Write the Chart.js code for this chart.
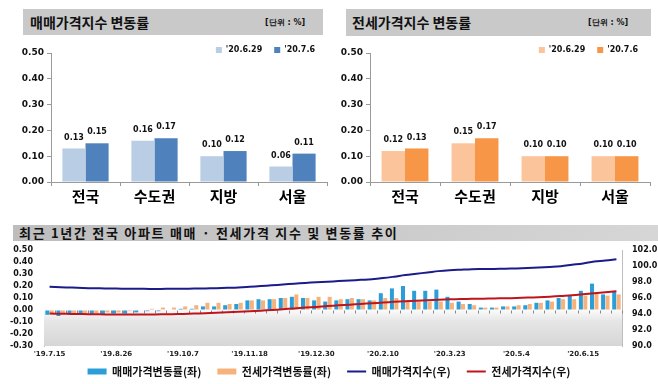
<!DOCTYPE html>
<html>
<head>
<meta charset="utf-8">
<script src="https://cdn.jsdelivr.net/npm/chart.js@4.4.0/dist/chart.umd.min.js"></script>
<style>
body{margin:0;width:658px;height:384px;background:#fff;position:relative;overflow:hidden;font-family:"Noto Sans CJK KR",sans-serif}
.box{position:absolute;background:#c9c9c9}
.ttl{position:absolute;font-weight:700;font-size:14px;color:#111;white-space:nowrap}
.unit{position:absolute;font:700 8px "DejaVu Sans";color:#111;white-space:nowrap}
canvas{position:absolute}
</style>
</head>
<body>
<div class="box" style="left:23px;top:9px;width:300px;height:26px"></div>
<div class="ttl" style="left:30px;top:9px;line-height:26px">매매가격지수 변동률</div>
<div class="unit" style="left:265px;top:17px">[단위 : %]</div>

<div class="box" style="left:346px;top:9px;width:305px;height:27px"></div>
<div class="ttl" style="left:352px;top:9px;line-height:27px">전세가격지수 변동률</div>
<div class="unit" style="left:588px;top:17px">[단위 : %]</div>

<div class="box" style="left:13px;top:225px;width:645px;height:16px;background:linear-gradient(90deg,#bdbdbd,#d6d6d6)"></div>
<div class="ttl" style="left:19px;top:225px;line-height:16px;font-size:13px;letter-spacing:1.7px">최근 1년간 전국 아파트 매매 · 전세가격 지수 및 변동률 추이</div>

<canvas id="c1" width="335" height="176" style="left:0;top:30px"></canvas>
<canvas id="c2" width="323" height="176" style="left:335px;top:30px"></canvas>
<canvas id="c3" width="658" height="142" style="left:0;top:242px"></canvas>

<script>
// top panels
const regions = ['전국', '수도권', '지방', '서울'];
const weekLabels = ["'20.6.29", "'20.7.6"];
const saleChg0629 = [0.13, 0.16, 0.10, 0.06];
const saleChg0706 = [0.15, 0.17, 0.12, 0.11];
const jeonseChg0629 = [0.12, 0.15, 0.10, 0.10];
const jeonseChg0706 = [0.13, 0.17, 0.10, 0.10];

// bottom panel (weekly, '19.7.15 ~ '20.7.6)
const weeks = ["'19.7.15","'19.7.22","'19.7.29","'19.8.5","'19.8.12","'19.8.19","'19.8.26","'19.9.2","'19.9.9","'19.9.16",
  "'19.9.23","'19.9.30","'19.10.7","'19.10.14","'19.10.21","'19.10.28","'19.11.4","'19.11.11","'19.11.18","'19.11.25",
  "'19.12.2","'19.12.9","'19.12.16","'19.12.23","'19.12.30","'20.1.6","'20.1.13","'20.1.20","'20.1.27","'20.2.3",
  "'20.2.10","'20.2.17","'20.2.24","'20.3.2","'20.3.9","'20.3.16","'20.3.23","'20.3.30","'20.4.6","'20.4.13",
  "'20.4.20","'20.4.27","'20.5.4","'20.5.11","'20.5.18","'20.5.25","'20.6.1","'20.6.8","'20.6.15","'20.6.22",
  "'20.6.29","'20.7.6"];
const saleRate = [-0.04,-0.05,-0.04,-0.04,-0.04,-0.04,-0.03,-0.03,-0.02,-0.01,
  -0.01,0.00,0.01,0.01,0.03,0.03,0.04,0.05,0.08,0.09,
  0.09,0.10,0.11,0.10,0.08,0.07,0.08,0.09,0.09,0.08,
  0.14,0.18,0.20,0.16,0.16,0.17,0.11,0.07,0.05,0.02,
  0.02,0.03,0.03,0.04,0.06,0.08,0.10,0.12,0.16,0.22,
  0.13,0.15];
const jeonseRate = [-0.03,-0.03,-0.03,-0.03,-0.03,-0.02,-0.02,-0.01,0.00,0.01,
  0.02,0.02,0.03,0.04,0.06,0.06,0.05,0.06,0.08,0.08,
  0.09,0.10,0.13,0.10,0.11,0.11,0.09,0.10,0.09,0.08,
  0.10,0.10,0.08,0.07,0.07,0.07,0.06,0.05,0.04,0.02,
  0.02,0.03,0.04,0.05,0.06,0.07,0.09,0.09,0.12,0.14,
  0.12,0.13];
const saleIndex = [97.40,97.35,97.30,97.25,97.22,97.20,97.18,97.16,97.15,97.14,
  97.14,97.15,97.16,97.18,97.20,97.23,97.27,97.32,97.40,97.49,
  97.58,97.68,97.79,97.89,97.97,98.04,98.11,98.19,98.27,98.35,
  98.49,98.67,98.87,99.03,99.19,99.36,99.47,99.54,99.60,99.62,
  99.64,99.67,99.70,99.74,99.80,99.88,99.98,100.15,100.32,100.55,
  100.68,100.84];
const jeonseIndex = [94.05,94.03,94.01,93.99,93.97,93.95,93.94,93.93,93.93,93.94,
  93.96,93.98,94.01,94.05,94.10,94.16,94.22,94.27,94.34,94.42,
  94.50,94.59,94.70,94.80,94.89,94.99,95.08,95.17,95.26,95.34,
  95.43,95.52,95.60,95.66,95.72,95.78,95.83,95.87,95.90,95.92,
  95.94,95.97,96.00,96.05,96.10,96.17,96.26,96.35,96.47,96.60,
  96.72,96.84];

const numFont = { family: 'DejaVu Sans', weight: 'bold' };
const korFont = { family: 'Noto Sans CJK KR', weight: 'bold' };

// value labels above bars
const barValues = {
  id: 'barValues',
  afterDatasetsDraw(chart) {
    const ctx = chart.ctx;
    ctx.save();
    ctx.font = 'bold 8px "DejaVu Sans"';
    ctx.fillStyle = '#111';
    ctx.textAlign = 'center';
    ctx.textBaseline = 'middle';
    chart.data.datasets.forEach((ds, i) => {
      chart.getDatasetMeta(i).data.forEach((bar, j) => {
        ctx.fillText(ds.data[j].toFixed(2), bar.x, bar.y - 11);
      });
    });
    ctx.restore();
  }
};

function topChart(id, a, b, colA, colB, axisW) {
  new Chart(document.getElementById(id), {
    type: 'bar',
    data: {
      labels: regions,
      datasets: [
        { label: weekLabels[0], data: a, backgroundColor: colA },
        { label: weekLabels[1], data: b, backgroundColor: colB }
      ]
    },
    options: {
      responsive: false,
      animation: false,
      layout: { padding: { top: 4, right: 8 } },
      datasets: { bar: { categoryPercentage: 0.67, barPercentage: 1.0 } },
      plugins: {
        legend: {
          position: 'top',
          align: 'end',
          maxHeight: 19,
          labels: { boxWidth: 6, boxHeight: 6, padding: 12, color: '#111', font: { ...numFont, size: 8 } }
        },
        tooltip: { enabled: false }
      },
      scales: {
        x: {
          grid: { drawOnChartArea: false, tickLength: 4, color: '#9a9a9a' },
          border: { color: '#9a9a9a' },
          ticks: { color: '#000', padding: 1, font: { ...korFont, size: 15 } },
          afterFit: s => { s.height = 24; }
        },
        y: {
          min: 0, max: 0.5,
          ticks: { stepSize: 0.1, padding: 3, color: '#111', font: { ...numFont, size: 9 },
            callback: v => v.toFixed(2) },
          grid: { drawOnChartArea: false, tickLength: 4, color: '#9a9a9a' },
          border: { color: '#9a9a9a' },
          afterFit: s => { s.width = axisW; }
        }
      }
    },
    plugins: [barValues]
  });
}

topChart('c1', saleChg0629, saleChg0706, '#b9cde5', '#4f81bd', 51);
topChart('c2', jeonseChg0629, jeonseChg0706, '#fbc49b', '#f79646', 35);

// shaded plot background + small category ticks on the zero line
const plotBg = {
  id: 'plotBg',
  beforeDatasetsDraw(chart) {
    const { ctx, chartArea: a, scales } = chart;
    const g = ctx.createLinearGradient(0, a.top, 0, a.bottom);
    g.addColorStop(0, '#ffffff');
    g.addColorStop(0.6, '#ffffff');
    g.addColorStop(0.74, '#e6e6e6');
    g.addColorStop(1, '#d6d6d6');
    ctx.save();
    ctx.fillStyle = g;
    ctx.fillRect(a.left, a.top, a.right - a.left, a.bottom - a.top);
    const x = scales.x, y0 = Math.round(scales.y.getPixelForValue(0)) + 0.5;
    const half = (x.getPixelForValue(1) - x.getPixelForValue(0)) / 2;
    ctx.strokeStyle = '#888';
    ctx.lineWidth = 1;
    ctx.beginPath();
    for (let i = 0; i < weeks.length; i++) {
      const px = Math.round(x.getPixelForValue(i) + half) + 0.5;
      ctx.moveTo(px, y0);
      ctx.lineTo(px, y0 + 3);
    }
    ctx.stroke();
    ctx.restore();
  }
};

// pull the bottom legend up towards the axis labels (bottom edge stays, so nothing is clipped)
const liftLegend = {
  id: 'liftLegend',
  afterLayout(chart) {
    chart.legend.top -= 10;
  }
};

// invisible tick marks stand in for label padding, so the plot can reach the top
const hiddenTicks = { drawOnChartArea: false, drawTicks: true, color: 'rgba(0,0,0,0)' };

new Chart(document.getElementById('c3'), {
  data: {
    labels: weeks,
    datasets: [
      { type: 'bar', label: '매매가격변동률(좌)', data: saleRate, backgroundColor: '#2b9ed8',
        yAxisID: 'y', order: 2, pointStyle: 'rect' },
      { type: 'bar', label: '전세가격변동률(좌)', data: jeonseRate, backgroundColor: '#f5b27c',
        yAxisID: 'y', order: 2, pointStyle: 'rect' },
      { type: 'line', label: '매매가격지수(우)', data: saleIndex, borderColor: '#1b1b8a', borderWidth: 2,
        pointRadius: 0, pointBorderWidth: 2, pointStyle: 'line', tension: 0.4, yAxisID: 'y2', order: 1 },
      { type: 'line', label: '전세가격지수(우)', data: jeonseIndex, borderColor: '#c0141c', borderWidth: 2,
        pointRadius: 0, pointBorderWidth: 2, pointStyle: 'line', tension: 0.4, yAxisID: 'y2', order: 1 }
    ]
  },
  options: {
    responsive: false,
    animation: false,
    layout: { padding: { top: 8 } },
    datasets: { bar: { categoryPercentage: 0.8, barPercentage: 0.9 } },
    plugins: {
      legend: {
        position: 'bottom',
        maxHeight: 24,
        labels: {
          usePointStyle: true, pointStyleWidth: 19, boxHeight: 6, padding: 16, color: '#111',
          font: { ...korFont, size: 11 },
          sort: (a, b) => a.datasetIndex - b.datasetIndex
        }
      },
      tooltip: { enabled: false }
    },
    scales: {
      x: {
        grid: { display: false, drawTicks: false },
        border: { display: false },
        ticks: { autoSkip: false, maxRotation: 0, padding: 4, color: '#222', font: { ...numFont, size: 7 },
          callback: (v, i) => (i % 6 === 0 ? weeks[i] : '') },
        afterFit: s => { s.height = 14; }
      },
      y: {
        position: 'left', min: -0.3, max: 0.5,
        ticks: { stepSize: 0.1, autoSkip: false, padding: 0, color: '#111', font: { ...numFont, size: 8 },
          callback: v => (Math.abs(v) < 1e-9 ? '0.00' : v.toFixed(2)) },
        grid: { ...hiddenTicks, tickLength: 11 },
        border: { color: '#bdbdbd' },
        afterFit: s => { s.width = 44; }
      },
      y2: {
        position: 'right', min: 90, max: 102,
        ticks: { stepSize: 2, autoSkip: false, padding: 0, color: '#111', font: { ...numFont, size: 8 },
          callback: v => v.toFixed(1) },
        grid: { ...hiddenTicks, tickLength: 10 },
        border: { color: '#bdbdbd' },
        afterFit: s => { s.width = 36; }
      }
    }
  },
  plugins: [plotBg, liftLegend]
});
</script>
</body>
</html>
